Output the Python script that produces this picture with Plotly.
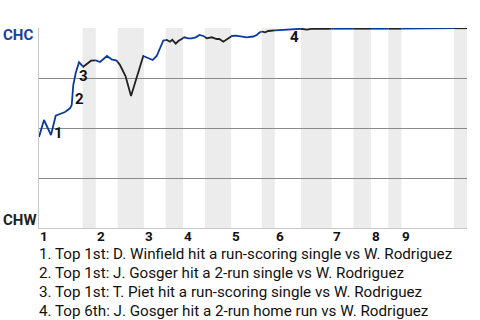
import numpy as np
import plotly.graph_objects as go

# ---------------- data ----------------
# game progress (plate-appearance units) and CHC win probability
PROGRESS = [0, 1.14, 2.75, 3.82, 4.81, 5.95, 7.10, 7.49, 7.85, 8.40, 9.16,
            10.14, 11.91, 12.82,
            13.97, 15.57, 16.65, 17.75,
            18.55, 19.81, 21.07, 23.88,
            25.26, 26.04, 26.95, 28.46,
            29.24, 30.00, 30.52, 31.30, 31.90, 32.68,
            33.27, 34.19, 34.97, 35.88, 36.75, 37.62,
            38.40, 39.55, 40.69, 41.29, 42.20, 43.12, 44.13,
            45.11, 46.42, 47.56, 49.07, 49.85, 50.49, 51.00,
            51.75, 52.51, 53.29, 54.00,
            56.33, 57.48, 57.87, 59.77,
            60.45, 61.37, 62.29, 64.35, 65.26, 66.18,
            67.0, 89.5, 89.8, 98]
WIN_PROB = [0.455, 0.54, 0.465, 0.5615, 0.57, 0.58, 0.5985, 0.615, 0.715, 0.775, 0.8285,
            0.8065, 0.8365, 0.84,
            0.83, 0.86, 0.8425, 0.8375,
            0.815, 0.76, 0.66, 0.86,
            0.845, 0.84, 0.86, 0.9375,
            0.94, 0.9315, 0.9415, 0.9215, 0.935, 0.945,
            0.9535, 0.9485, 0.9485, 0.9535, 0.965, 0.96,
            0.9485, 0.9535, 0.945, 0.945, 0.9315, 0.945, 0.96,
            0.9615, 0.9565, 0.9535, 0.9575, 0.965, 0.9775, 0.9825,
            0.9785, 0.985, 0.9865, 0.9885,
            0.9925, 0.9925, 0.996, 0.9965,
            0.9955, 0.992, 0.9955, 0.9955, 0.9925, 0.9955,
            0.9965, 0.9965, 0.999, 0.999]

# plate appearances per half inning (top 1, bottom 1, top 2, ...)
HALF_INNING_PA = [10, 3, 5, 6, 5, 4, 5, 6, 7, 3, 6, 7, 5, 4, 4, 3, 12, 3]
INNING_LABELS = ["1", "2", "3", "4", "5", "6", "7", "8", "9"]

EVENT_MARKS = ["1", "2", "3", "4"]
EVENT_X = [4.42, 9.16, 10.14, 58.6]
EVENT_Y = [0.4775, 0.645, 0.7615, 0.9575]
EVENT_TEXT = [
    "1. Top 1st: D. Winfield hit a run-scoring single vs W. Rodriguez",
    "2. Top 1st: J. Gosger hit a 2-run single vs W. Rodriguez",
    "3. Top 1st: T. Piet hit a run-scoring single vs W. Rodriguez",
    "4. Top 6th: J. Gosger hit a 2-run home run vs W. Rodriguez",
]
TEAM_TOP = "CHC"
TEAM_BOTTOM = "CHW"

# ---------------- styling ----------------
BLUE = "#0a3a9f"
BLACK = "#222222"
BAND = "#ececec"
FONT = "Roboto"

bounds = np.concatenate([[0], np.cumsum(HALF_INNING_PA)])
px = np.array(PROGRESS, dtype=float)
py = np.array(WIN_PROB, dtype=float)

fig = go.Figure()

# shaded bottom halves
shapes = []
for i in range(len(HALF_INNING_PA)):
    if i % 2 == 1:
        shapes.append(dict(type="rect", xref="x", yref="paper",
                           x0=bounds[i], x1=bounds[i + 1], y0=0, y1=1,
                           fillcolor=BAND, line_width=0, layer="below"))

# line segments coloured by batting team
segs = {0: ([], []), 1: ([], [])}
for i in range(len(HALF_INNING_PA)):
    a, b = bounds[i], bounds[i + 1]
    mask = (px > a) & (px < b)
    xs = [a] + list(px[mask]) + [b]
    ys = [np.interp(a, px, py)] + list(py[mask]) + [np.interp(b, px, py)]
    sx, sy = segs[i % 2]
    sx.extend(xs + [None])
    sy.extend(ys + [None])

for k, col in [(1, BLACK), (0, BLUE)]:
    fig.add_trace(go.Scatter(x=segs[k][0], y=segs[k][1], mode="lines",
                             line=dict(color=col, width=1.8),
                             hoverinfo="skip", showlegend=False))

annotations = []
for m, x, y in zip(EVENT_MARKS, EVENT_X, EVENT_Y):
    annotations.append(dict(x=x, y=y, xref="x", yref="y", text="<b>%s</b>" % m,
                            showarrow=False, borderpad=0,
                            font=dict(family=FONT, size=15, color="#111")))

# inning labels
inning_starts = bounds[0:-1:2]
for lab, x in zip(INNING_LABELS, inning_starts):
    annotations.append(dict(x=x, y=-0.04, xref="x", yref="paper", text="<b>%s</b>" % lab,
                            xanchor="left", yanchor="middle", showarrow=False,
                            borderpad=0,
                            font=dict(family=FONT, size=13.5, color="#111")))

# team labels
annotations.append(dict(x=-37 / 428, y=0.967, xref="paper", yref="paper",
                        text="<b>%s</b>" % TEAM_TOP, xanchor="left", yanchor="middle",
                        showarrow=False, borderpad=0,
                        font=dict(family=FONT, size=15, color="#1a3f9c")))
annotations.append(dict(x=-37 / 428, y=0.04, xref="paper", yref="paper",
                        text="<b>%s</b>" % TEAM_BOTTOM, xanchor="left", yanchor="middle",
                        showarrow=False, borderpad=0,
                        font=dict(family=FONT, size=15, color="#222")))

# event list
for j, t in enumerate(EVENT_TEXT):
    annotations.append(dict(x=0, y=-0.1275 - j * 0.095, xref="paper", yref="paper",
                            text=t, xanchor="left", yanchor="middle", showarrow=False,
                            xshift=-1, borderpad=0,
                            font=dict(family=FONT, size=15.2, color="#111")))

fig.update_layout(
    width=480, height=320,
    margin=dict(l=39, r=13, t=28, b=92),
    paper_bgcolor="white", plot_bgcolor="white",
    shapes=shapes, annotations=annotations,
    xaxis=dict(range=[0, bounds[-1]], showgrid=False, zeroline=False,
               showticklabels=False, ticks="", showline=True,
               linecolor="#c8c8c8", linewidth=1, fixedrange=True),
    yaxis=dict(range=[0, 1], tickvals=[0.25, 0.5, 0.75, 1.0], showgrid=True,
               gridcolor="#8a8a8a", gridwidth=1, zeroline=False,
               showticklabels=False, ticks="", showline=True,
               linecolor="#c8c8c8", linewidth=1, fixedrange=True),
)

fig.write_html("out.html")
